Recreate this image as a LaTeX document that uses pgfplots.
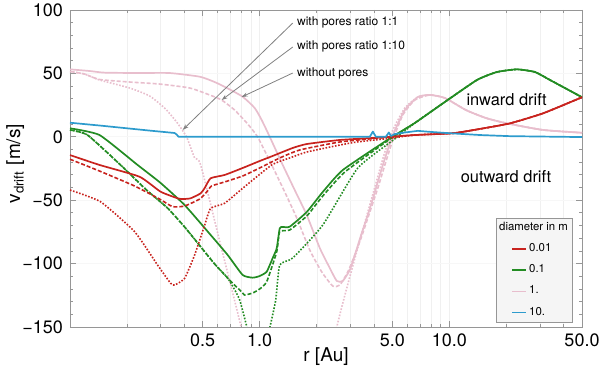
\documentclass[border=0pt]{standalone}
\usepackage{fontspec}
\setmainfont{TeX Gyre Heros}
\usepackage{pgfplots}
\pgfplotsset{compat=1.18}
\usetikzlibrary{arrows.meta}
\definecolor{cRed}{RGB}{200,35,30}
\definecolor{cGreen}{RGB}{35,140,35}
\definecolor{cPink}{RGB}{232,190,205}
\definecolor{cBlue}{RGB}{45,155,205}
\definecolor{cFrame}{RGB}{150,150,150}

\begin{document}
\begin{tikzpicture}
\useasboundingbox (-35pt,-23.5pt) rectangle (265pt,163.5pt);
\begin{axis}[
  scale only axis, width=256pt, height=158.5pt,
  xmode=log, xmin=0.1, xmax=50, ymin=-150, ymax=100,
  xtick={0.5,1,5,10,50}, xticklabels={0.5,1.0,5.0,10.0,50.0},
  minor xtick={0.2,0.3,0.4,0.6,0.7,0.8,0.9,2,3,4,6,7,8,9,20,30,40},
  ytick={-150,-100,-50,0,50,100}, yticklabels={−150,−100,−50,0,50,100},
  minor ytick={-140,-130,...,90},
  /pgf/number format/assume math mode=true,
  ticklabel style={font=\fontsize{9}{10}\selectfont},
  xmajorgrids, xminorgrids, ymajorgrids,
  major grid style={gray!12, line width=0.3pt},
  minor grid style={gray!12, line width=0.3pt},
  y grid style={gray!6, line width=0.3pt},
  axis line style={cFrame},
  tick style={cFrame, line width=0.4pt},
  major tick length=3pt, minor tick length=1.5pt,
  xlabel={r [Au]}, ylabel={v\textsubscript{drift} [m/s]},
  label style={font=\fontsize{9.5}{11}\selectfont},
  xlabel style={at={(axis description cs:0.5,-0.094)}, anchor=center},
  ylabel style={at={(axis description cs:-0.107,0.515)}, anchor=center},
  legend style={at={(0.982,0.013)}, anchor=south east, draw=cFrame, fill=gray!8,
    font=\fontsize{5.7}{6.8}\selectfont, row sep=3pt, inner sep=1.2pt,
    nodes={inner sep=1pt}},
  legend cell align=left,
  legend image code/.code={\path (0pt,0pt); \draw[#1] (6.5pt,0pt) -- (13.5pt,0pt);},
  every axis plot/.append style={line join=round},
]
\addlegendimage{empty legend}\addlegendentry{\hspace*{-15pt}diameter in m}
\addlegendimage{cRed, line width=0.9pt}\addlegendentry{0.01}
\addlegendimage{cGreen, line width=0.9pt}\addlegendentry{0.1}
\addlegendimage{cPink, line width=0.9pt}\addlegendentry{1.}
\addlegendimage{cBlue, line width=0.9pt}\addlegendentry{10.}

% 1 m
\addplot[forget plot, smooth, tension=0.35, cPink, line width=0.8pt, dash pattern=on 0.8pt off 0.8pt] coordinates {
(0.1,51.5)(0.1193,49.5)(0.1431,44.8)(0.2061,38.5)(0.2627,32.2)(0.3152,22.7)(0.3648,11.7)(0.4118,-0.2)
(0.4539,-16.7)(0.4884,-22.2)(0.6223,-85.3)(0.7935,-148.4)(1.4394,-310)(2.5491,-150.0)(3.2104,-93.2)
(4.1451,-34.1)(4.5681,-12.0)(5.0334,5.4)(5.8232,22.7)(6.8197,31.4)(7.889,33.0)(9.4684,30.6)(12.221,21.1)
(15.584,14.8)(20.112,10.6)(31.15,5.4)(50,3.2)};
\addplot[forget plot, smooth, tension=0.35, cPink, line width=0.8pt, dash pattern=on 2pt off 1pt] coordinates {
(0.1,51.5)(0.1193,49.5)(0.1431,45.2)(0.2061,43.2)(0.2967,41.6)(0.4272,38.5)(0.5446,33.0)(0.6299,29.0)
(0.738,21.1)(0.8643,10.1)(0.9759,-0.2)(1.157,-22.2)(1.3549,-43.5)(1.5678,-64.0)(1.8362,-89.3)(2.1243,-106.6)
(2.4279,-117.7)(2.6437,-116.9)(2.9131,-106.6)(3.1714,-93.2)(3.4539,-78.2)(3.8071,-59.3)(4.1958,-40.4)
(4.5681,-22.2)(5.0334,-2.5)(5.6834,17.2)(6.5751,29.0)(7.889,33.0)(9.4684,30.6)(12.221,21.1)
(15.584,14.8)(20.112,10.6)(31.15,5.4)(50,3.2)};
\addplot[forget plot, smooth, tension=0.35, cPink, line width=0.85pt] coordinates {
(0.1,53.2)(0.1267,51.9)(0.1521,50.6)(0.2327,50.3)(0.335,50.3)(0.4825,47.4)(0.5787,43.2)(0.6778,38.2)
(0.8134,31.6)(0.941,22.7)(1.0247,13.2)(1.1293,0)(1.3225,-22.2)(1.5299,-42.0)(1.7702,-61.7)(2.0733,-87.7)
(2.3409,-103.5)(2.5491,-113.7)(2.7416,-113.7)(2.9849,-105.0)(3.2104,-90.9)(3.4119,-78.2)(3.7154,-61.7)
(4.0458,-43.5)(4.4586,-22.2)(5.0334,1.4)(5.8232,21.1)(6.8197,31.4)(7.889,33.0)(9.4684,30.6)(12.221,21.1)
(15.584,14.8)(20.112,10.6)(31.15,5.4)(50,3.2)};

% 0.1 m
\addplot[forget plot, smooth, tension=0.3, cGreen, line width=0.8pt, dash pattern=on 0.8pt off 0.8pt] coordinates {
(0.1,5.4)(0.1237,1.4)(0.1847,-22.2)(0.2533,-42.0)(0.3269,-56.2)(0.4019,-71.1)(0.4884,-86.7)(0.5787,-100.3)
(0.6778,-111.4)(0.7843,-128.7)(0.9074,-164)(1.0247,-176)(1.1293,-150.8)(1.2146,-128.7)(1.275,-101.1)
(1.4935,-95.6)(2.1502,-69.6)(3.289,-24.6)(5.1573,-1.6)(6.5751,10.9)(9.2409,26.4)(13.968,44.8)(17.81,51.1)
(22.71,53.2)(28.26,51.1)(33.91,44.8)(50,31.2)};
\addplot[forget plot, smooth, tension=0.3, cGreen, line width=0.8pt, dash pattern=on 2pt off 1pt] coordinates {
(0.1,5.4)(0.1237,1.4)(0.1847,-22.2)(0.2533,-42.0)(0.3269,-56.2)(0.4019,-71.1)(0.4884,-86.7)(0.5787,-100.3)
(0.6778,-111.4)(0.8134,-123.2)(0.8334,-124.8)(0.9185,-123.2)(1,-120.0)(1.0888,-114.3)(1.2295,-90.6)
(1.275,-74.8)(1.4394,-73.5)(1.7702,-62.5)(2.1502,-46.7)(2.809,-27.8)(5.0334,-0.2)(6.5751,10.9)(9.2409,26.4)
(13.968,44.8)(17.81,51.1)(22.71,53.2)(28.26,51.1)(33.91,44.8)(50,31.2)};
\addplot[forget plot, smooth, tension=0.3, cGreen, line width=0.85pt] coordinates {
(0.1,6.7)(0.1431,1.4)(0.2271,-22.2)(0.3003,-36.4)(0.4019,-53.8)(0.5513,-77.4)(0.6778,-93.2)(0.8134,-109.0)
(0.9185,-111.1)(1,-109.8)(1.0888,-106.4)(1.1712,-95.6)(1.2295,-87.9)(1.275,-72.2)(1.3225,-71.1)
(1.4394,-70.9)(1.7702,-59.3)(2.1502,-43.5)(2.7416,-26.2)(4.8541,-1.2)(6.5751,10.9)(9.2409,26.4)
(13.968,44.8)(17.81,51.1)(22.71,53.2)(28.26,51.1)(33.91,44.8)(50,31.2)};

% 0.01 m
\addplot[forget plot, smooth, tension=0.3, cRed, line width=0.8pt, dash pattern=on 0.8pt off 0.8pt] coordinates {
(0.1,-42.0)(0.1448,-51.2)(0.219,-74.8)(0.2894,-101.1)(0.3391,-115.5)(0.356,-116.9)(0.4019,-111.6)
(0.4539,-93.2)(0.5128,-69.6)(0.5513,-56.4)(0.6535,-52.4)(0.8134,-40.6)(1.157,-22.2)(1.4394,-16.7)
(1.7702,-12.0)(2.6437,-6.5)(3.2498,-4.1)(4.8541,-1.2)(6.5751,1.4)(10.435,2.8)(14.487,6.2)(20.863,10.6)
(31.15,18.5)(50,31.2)};
\addplot[forget plot, smooth, tension=0.3, cRed, line width=0.8pt, dash pattern=on 2pt off 1pt] coordinates {
(0.1,-17.7)(0.1431,-27.0)(0.219,-38.8)(0.2967,-49.1)(0.3474,-55.1)(0.4019,-54.6)(0.4825,-49.1)
(0.5253,-43.5)(0.558,-38.8)(0.6535,-35.6)(0.8134,-30.9)(1,-24.6)(1.275,-16.7)(1.6259,-10.4)(2.6437,-4.1)
(4.2987,-0.9)(6.5751,1.4)(10.435,2.8)(14.487,6.2)(20.863,10.6)(31.15,18.5)(50,31.2)};
\addplot[forget plot, smooth, tension=0.3, cRed, line width=0.85pt] coordinates {
(0.1,-14.4)(0.1431,-22.2)(0.2327,-31.5)(0.3003,-43.3)(0.3693,-48.5)(0.3925,-49.1)(0.4324,-48.5)
(0.4884,-44.6)(0.5128,-40.4)(0.5513,-32.7)(0.6535,-30.1)(0.8134,-24.6)(1,-19.1)(1.1712,-15.1)
(1.4935,-8.8)(1.7702,-5.7)(2.6437,-2.5)(4.2987,-0.6)(6.5751,1.4)(10.435,2.8)(14.487,6.2)(20.863,10.6)
(31.15,18.5)(50,31.2)};

% 10 m
\addplot[forget plot, cBlue, line width=0.85pt] coordinates {
(0.1,11.1)(0.1431,8.9)(0.2061,6.5)(0.2627,4.9)(0.356,3.0)(0.3648,1.8)(0.3738,0)(3.8071,0)(3.9484,4.1)
(4.0949,0)(4.624,0)(4.7953,3.4)(4.9135,0.6)(5.1573,2.2)(5.8232,3.4)(6.8197,4.7)(7.889,3.9)(10.061,2.8)
(14.487,1.4)(20.863,0.5)(50,-0.2)};

% annotations
\begin{scope}[gray, line width=0.4pt]
\draw[-{Stealth[length=3pt,width=2pt]}] (axis cs:1.4935,89.7) -- (axis cs:0.3925,5.4);
\draw[-{Stealth[length=3pt,width=2pt]}] (axis cs:1.4935,70.8) -- (axis cs:0.6299,29.0);
\draw[-{Stealth[length=3pt,width=2pt]}] (axis cs:1.4935,50.3) -- (axis cs:0.8035,31.4);
\end{scope}
\begin{scope}[every node/.style={anchor=west, font=\fontsize{6}{7}\selectfont, inner sep=0pt}]
\node at (axis cs:1.568,90.5) {with pores ratio 1:1};
\node at (axis cs:1.568,71.0) {with pores ratio 1:10};
\node at (axis cs:1.568,50.3) {without pores};
\end{scope}
\node[font=\fontsize{8.2}{9}\selectfont] at (axis cs:20.04,29.0) {inward drift};
\node[font=\fontsize{8.2}{9}\selectfont] at (axis cs:19.87,-31.5) {outward drift};
\end{axis}
\end{tikzpicture}
\end{document}
